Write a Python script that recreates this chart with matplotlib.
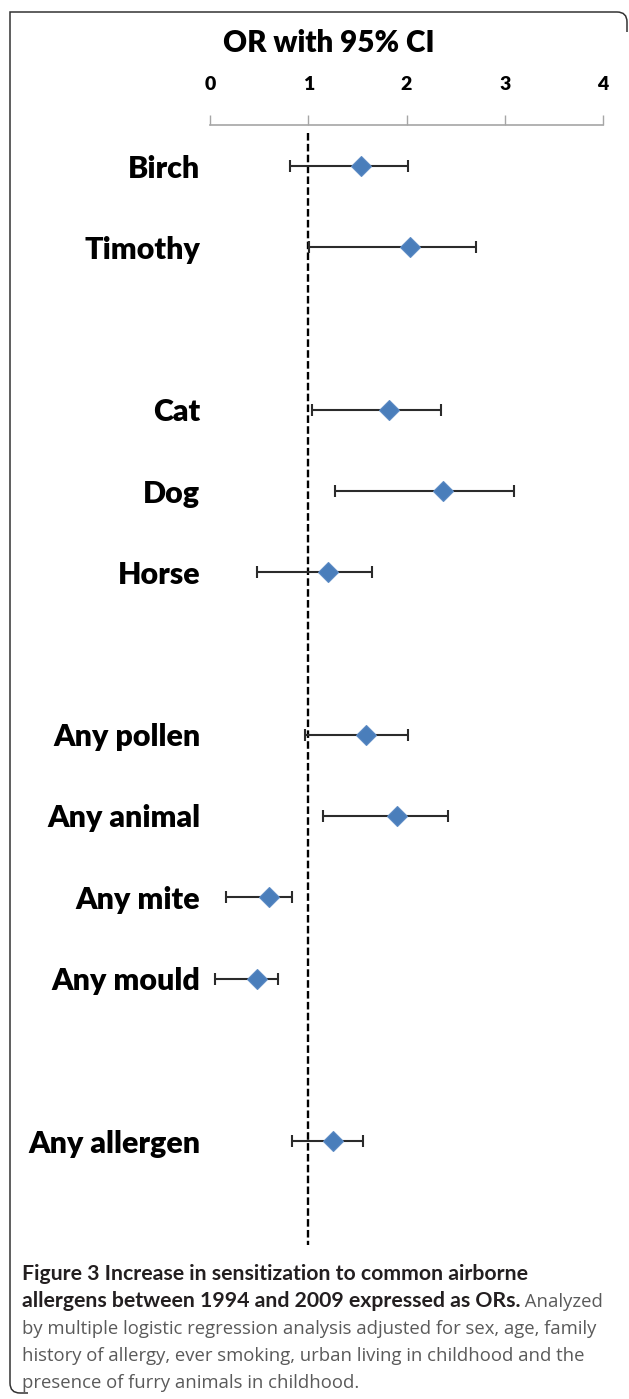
import matplotlib
matplotlib.use("Agg")
import matplotlib.pyplot as plt
from matplotlib.path import Path
from matplotlib.patches import PathPatch
from matplotlib.transforms import Affine2D

W, H = 629, 1399

# forest plot data (OR with 95% CI)
labels = ["Birch", "Timothy", "Cat", "Dog", "Horse",
          "Any pollen", "Any animal", "Any mite", "Any mould", "Any allergen"]
rows = [0, 1, 3, 4, 5, 7, 8, 9, 10, 12]
odds = [1.54, 2.04, 1.82, 2.37, 1.20, 1.59, 1.90, 0.60, 0.48, 1.25]
ci_lo = [0.81, 1.01, 1.04, 1.27, 0.48, 0.97, 1.15, 0.16, 0.05, 0.83]
ci_hi = [2.02, 2.71, 2.35, 3.09, 1.65, 2.02, 2.42, 0.83, 0.69, 1.56]
xticks = [0, 1, 2, 3, 4]

caption_bold = ["Figure 3 Increase in sensitization to common airborne",
                "allergens between 1994 and 2009 expressed as ORs."]
caption_reg = [" Analyzed",
               "by multiple logistic regression analysis adjusted for sex, age, family",
               "history of allergy, ever smoking, urban living in childhood and the",
               "presence of furry animals in childhood."]

LABEL_FONT = ["Lato", "DejaVu Sans"]
CAP_FONT = ["Open Sans", "DejaVu Sans"]
CAP_BOLD_FONT = ["Lato", "DejaVu Sans"]

fig = plt.figure(figsize=(W / 100, H / 100), dpi=100)
# pixel coords (origin top-left) -> figure coords
px = Affine2D().scale(1 / W, -1 / H).translate(0, 1) + fig.transFigure
r = fig.canvas.get_renderer()


def fit_size(s, family, weight, target_px):
    # font size that makes the string about target_px wide
    t = fig.text(0, 0, s, fontfamily=family, fontweight=weight, fontsize=10)
    w = t.get_window_extent(r).width
    t.remove()
    return 10 * target_px / w


# plot area: x 0..4 spans 210..603 px, axis line at y=125, dashed line ends y=1245
top, bot = 125, 1245
ax = fig.add_axes([210 / W, 1 - bot / H, 393 / W, (bot - top) / H])
slot = 81.25
r_top = (top - 166) / slot
r_bot = (bot - 166) / slot
ax.set_xlim(0, 4)
ax.set_ylim(r_bot, r_top)

ax.vlines(1, (133 - 166) / slot, r_bot, colors="black", linewidth=1.7,
          linestyles=(0, (3.2, 1.4)), zorder=1)

ax.errorbar(odds, rows, xerr=[[o - l for o, l in zip(odds, ci_lo)],
                               [h - o for o, h in zip(odds, ci_hi)]],
            fmt="none", ecolor="#2b2b2b", elinewidth=1.5, capsize=4.2,
            capthick=1.5, zorder=2)
ax.plot(odds, rows, linestyle="none", marker="D", markersize=10.6,
        markerfacecolor="#4a7ebb", markeredgecolor="#5b8ac4",
        markeredgewidth=0.8, zorder=3)

for s in ("left", "right", "bottom"):
    ax.spines[s].set_visible(False)
ax.spines["top"].set_color("#a6a6a6")
ax.spines["top"].set_linewidth(1.2)
ax.xaxis.tick_top()
ax.set_xticks(xticks)
ax.set_xticklabels([str(t) for t in xticks], fontfamily=LABEL_FONT,
                   fontweight="heavy", fontsize=14)
ax.tick_params(axis="x", direction="out", length=7, width=1.0,
               color="#a6a6a6", pad=16)
lab_size = fit_size("Any pollen", LABEL_FONT, "heavy", 148)
ax.set_yticks(rows)
ax.set_yticklabels(labels, fontfamily=LABEL_FONT, fontweight="heavy",
                   fontsize=lab_size)
ax.tick_params(axis="y", length=0, pad=7)
ax.patch.set_visible(False)

title = "OR with 95% CI"
fig.text(329, 43, title, transform=px, ha="center", va="center",
         fontfamily=LABEL_FONT, fontweight="heavy",
         fontsize=fit_size(title, LABEL_FONT, "heavy", 212))

# caption
x0 = 22
base = [1280, 1307, 1334, 1361, 1388]
bsize = fit_size(caption_bold[0], CAP_BOLD_FONT, "bold", 508)
rsize = fit_size(caption_reg[1], CAP_FONT, "normal", 577)
fig.text(x0, base[0], caption_bold[0], transform=px, va="baseline",
         fontfamily=CAP_BOLD_FONT, fontweight="bold", fontsize=bsize,
         color="#231f20")
t2 = fig.text(x0, base[1], caption_bold[1], transform=px, va="baseline",
              fontfamily=CAP_BOLD_FONT, fontweight="bold", fontsize=bsize,
              color="#231f20")
x_end = t2.get_window_extent(r).x1 / fig.dpi * 100
fig.text(x_end, base[1], caption_reg[0], transform=px, va="baseline",
         fontfamily=CAP_FONT, fontsize=rsize, color="#5a5a5a")
for i, line in enumerate(caption_reg[1:]):
    fig.text(x0, base[2 + i], line, transform=px, va="baseline",
             fontfamily=CAP_FONT, fontsize=rsize, color="#5a5a5a")

# frame with rounded top-right and bottom-left corners
verts = [(627, 32), (627, 22), (627, 12), (617, 12), (10, 12), (10, 1383),
         (10, 1393), (20, 1393), (28, 1393)]
codes = [Path.MOVETO, Path.LINETO, Path.CURVE3, Path.CURVE3, Path.LINETO,
         Path.LINETO, Path.CURVE3, Path.CURVE3, Path.LINETO]
fig.patches.append(PathPatch(Path(verts, codes), transform=px, fill=False,
                             edgecolor="#333333", linewidth=1.1))

fig.savefig("out.png", dpi=100)
